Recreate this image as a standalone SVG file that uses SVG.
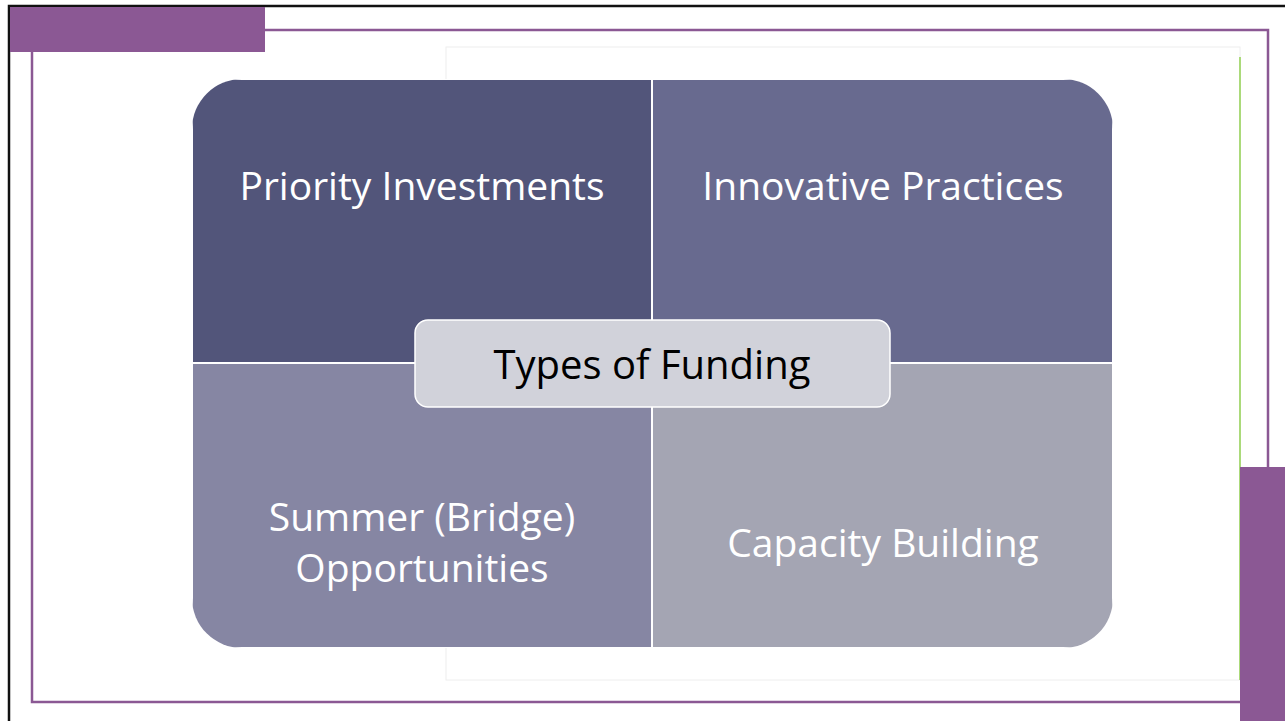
<svg xmlns="http://www.w3.org/2000/svg" width="1285" height="721" viewBox="0 0 1285 721">
<style>
.frame{fill:none;stroke:#8B5894;stroke-width:2.5}
.t{font-family:"Open Sans","Noto Sans",sans-serif;font-size:39px;fill:#ffffff;text-anchor:middle}
.c{font-family:"Open Sans","Noto Sans",sans-serif;font-size:40px;fill:#000000;text-anchor:middle}
.quad{stroke:#ffffff;stroke-width:2}
</style>
<defs>
<clipPath id="rr"><rect x="192" y="79" width="921" height="569" rx="50" ry="50"/></clipPath>
</defs>
<rect width="1285" height="721" fill="#ffffff"/>
<g id="background">
<rect x="9" y="6" width="1290" height="730" fill="none" stroke="#111111" stroke-width="2.5"/>
<rect x="446" y="47" width="794" height="633" fill="#ffffff" stroke="#eeeeee" stroke-width="1"/>
<line x1="1240" y1="57" x2="1240" y2="680" stroke="#92D050" stroke-width="1.5"/>
<polyline class="frame" points="265,30 1268,30 1268,467"/>
<polyline class="frame" points="32,52 32,702 1240,702"/>
<rect x="10" y="7" width="255" height="45" fill="#8B5894"/>
<rect x="1240" y="467" width="45" height="254" fill="#8B5894"/>
</g>
<g id="quadrants" clip-path="url(#rr)">
<g id="node-priority"><rect class="quad" x="192" y="79" width="460" height="284" fill="#52557A"/></g>
<g id="node-innovative"><rect class="quad" x="652" y="79" width="461" height="284" fill="#686A8F"/></g>
<g id="node-summer"><rect class="quad" x="192" y="363" width="460" height="285" fill="#8686A3"/></g>
<g id="node-capacity"><rect class="quad" x="652" y="363" width="461" height="285" fill="#A4A5B3"/></g>
</g>
<g id="labels">
<text class="t" x="422" y="200">Priority Investments</text>
<text class="t" x="883" y="200">Innovative Practices</text>
<text class="t" x="422" y="531">Summer (Bridge)</text>
<text class="t" x="422" y="582">Opportunities</text>
<text class="t" x="883" y="557">Capacity Building</text>
</g>
<g id="connectors"></g>
<g id="node-center">
<rect x="415" y="320" width="475" height="87" rx="13" ry="13" fill="#D1D2DA" stroke="#ffffff" stroke-width="1.5"/>
<text class="c" x="652" y="379">Types of Funding</text>
</g>
</svg>
